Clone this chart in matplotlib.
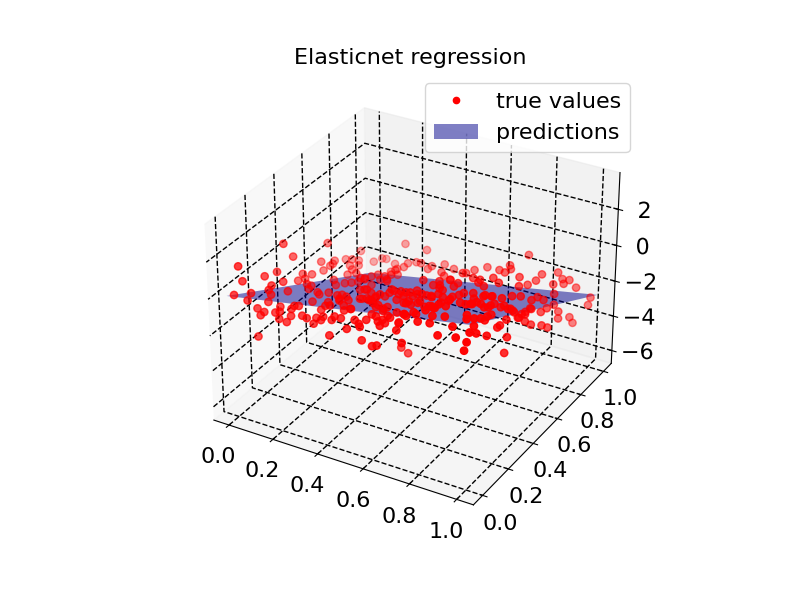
import numpy as np
import matplotlib
matplotlib.use("Agg")
import matplotlib.pyplot as plt
import matplotlib.patheffects as pe
from matplotlib.patches import Patch

plt.rcParams['font.size'] = 16
plt.rcParams['grid.color'] = 'k'
plt.rcParams['grid.linestyle'] = '--'
plt.rcParams['grid.linewidth'] = 1.0

title = "Elasticnet regression"
x_true = [
 .03,.04,.04,.01,.04,.03,.02,0,.05,.04,
 .09,.09,.09,.11,.10,.10,.07,.09,.10,.09,
 .14,.13,.15,.16,.20,.19,.20,.19,.21,.25,
 .27,.22,.18,.20,.14,.12,.05,.06,.06,.06,
 .10,.04,.05,.05,.05,.04,.03,.06,.06,.09,
 .04,.08,.12,.13,.17,.16,.21,.24,.20,.23,
 .30,.34,.34,.29,.29,.29,.30,.30,.32,.33,
 .33,.38,.38,.42,.41,.44,.48,.51,.53,.52,
 .47,.40,.54,.59,.61,.71,.55,.58,.67,.60,
 .61,.62,.54,.19,.07,.08,.10,.17,.21,.21,
 .30,.31,.28,.30,.24,.24,.36,.40,.38,.45,
 .45,.48,.48,.52,.56,.55,.50,.56,.62,.65,
 .58,.53,
 .29,.75,.40,.47,.37,.38,.32,.27,.26,.27,
 .47,.51,.58,.59,.62,.70,.72,.75,.75,.84,
 .86,.88,.86,.85,.89,.90,.93,.93,.96,.91,
 1.0,1.0,.94,.94,.96,.96,.96,.95,.99,.99,
 .97,.97,.97,.96,.97,.97,.98,.98,.98,.97,
 .91,.86,.94,.99,.98,1.0,.99,.59,.59,.62,
 .56,.65,.71,.72,.77,.82,.78,.83,.66,.70,
 .68,.66,.65,.63,.74,.75,.76,.83,.90,.83,
 .88,.91,.95,.94,.95,.97,.97,.97,.96,.96,
 .97,.97,.97,.96,.93,.93,.90,.96,.97,.94,
 .85,.81,.77,.72,.68,.76,.97,
 .25,.30,.27,.27,.33,.33,.29,.37,.37,.34,
 .42,.47,.47,.47,.50,.54,.58,.40,.38,.39,
 .29,.34,.42,.54,.56,.60,.59,.64,.66,.71,
 .63,.62,.68,.72,.74,.78,.50,.49,.61,.60,
 .56,.73,.70,.68,.81,
 .63,.62,.72,.67,.62,.71,.74,.80,.78,.82,
 .78,.77,.77,.79,.86,.90,.88,.87,.88,.90,
 .93,.93,.93,.95,.95,.93,.94,.92,.94,.75,
 .62,.93,.96,.96,.97,
]
y_true = [
 .3,.6,.35,.02,.15,.25,.03,0,.04,.03,
 .1,.12,.2,.2,.1,.08,.05,.04,.05,.02,
 .1,.08,.08,.06,.05,.1,.08,.12,.12,.08,
 .08,.2,.3,.28,.3,.35,.4,.35,.4,.45,
 .35,.55,.55,.6,.62,.65,.75,.75,.8,.75,
 .85,.7,.65,.6,.6,.45,.45,.45,.4,.3,
 .25,.25,.2,.2,.18,.15,.1,.08,.1,.1,
 .15,.1,.08,.08,.12,.12,.08,.06,.08,.05,
 .04,.03,.03,.02,.02,.03,.3,.3,.06,.06,
 .08,.1,.3,.95,.9,.95,.95,.9,.85,.8,
 .7,.6,.6,.5,.55,.5,.35,.3,.3,.25,
 .28,.3,.35,.35,.25,.2,.2,.15,.15,.15,
 .08,.12,
 .95,.95,.9,.85,.85,.8,.85,.9,.85,.8,
 .75,.7,.75,.8,.85,.8,.85,.8,.75,.7,
 .85,.95,.8,.75,.6,.95,.95,.9,.95,.85,
 1.0,.98,.8,.8,.8,.8,.9,.95,.65,.6,
 .55,.5,.45,.4,.3,.28,.18,.1,.05,.1,
 .05,.03,.02,.01,.01,.3,.3,.25,.3,.3,
 .45,.5,.45,.55,.5,.45,.6,.55,.4,.35,
 .3,.25,.2,.2,.2,.25,.3,.25,.2,.35,
 .35,.35,.35,.45,.5,.55,.6,.65,.7,.65,
 .55,.5,.4,.35,.3,.25,.25,.12,.15,.1,
 .1,.08,.1,.1,.1,.06,.2,
 .5,.45,.55,.6,.55,.6,.7,.5,.35,.35,
 .3,.25,.28,.2,.18,.15,.12,.25,.2,.15,
 .3,.2,.15,.3,.32,.3,.35,.3,.3,.25,
 .22,.2,.2,.18,.18,.15,.3,.35,.1,.08,
 .1,.1,.08,.06,.06,
 .45,.55,.4,.38,.42,.3,.28,.22,.18,.16,
 .14,.3,.35,.35,.3,.3,.4,.22,.25,.28,
 .28,.33,.38,.4,.45,.55,.5,.6,.6,.55,
 .65,.12,.2,.25,.35,
]
z_true = [
 1.11,-.61,.14,1.51,.28,-.13,.68,.05,.08,-.29,
 .02,.14,-.15,-.6,-.2,-.47,-.74,-.98,-.83,-2.02,
 -.71,-.94,-.82,-1.05,-1.01,-.65,-.87,-.61,-.54,-.67,
 -.73,-.77,-1.03,-.95,-.99,-1.19,-1.09,-1.13,-1.33,-1.39,
 -1.17,-1.36,-1.82,-1.86,-1.87,-1.91,-2.47,-2.37,-2.74,-2.61,
 -2.56,-2.36,-2.13,-2.08,-1.86,-1.35,-1.35,-1.21,-1.18,-.87,
 -.45,-.38,-.18,-.55,-.62,-.65,-.73,-.92,-.78,-.56,
 -.27,-.36,-.42,-.18,-.05,.14,-.05,-.02,.14,-.08,
 -.31,-.86,-.6,-.66,-.55,-.1,-2.73,-2.93,.23,.21,
 .26,.46,-1.37,-2.23,-3.38,-3.46,-3.42,-3.16,-3.0,-2.86,
 -2.1,-1.71,-1.83,-1.44,-1.58,-1.47,-.54,-.57,-.66,-.17,
 -.24,-.17,-.1,-.06,.25,.14,-.05,.29,.42,.43,
 .24,.18,
 -2.24,-.92,-2.38,-2.09,-2.28,-2.1,-2.29,-2.71,-2.5,-2.38,
 -1.66,-1.42,-1.32,-1.42,-1.46,-1.03,-1.0,-.8,-.68,-.31,
 -1.01,-1.45,-1.05,-1.01,-.01,-1.75,-1.7,-1.6,-2.02,-1.39,
 -2.75,-3.05,-1.51,-2.11,-2.42,-2.81,-3.38,-4.06,-2.24,-1.8,
 -1.51,-1.01,-.49,.28,.06,.08,.32,.97,1.34,1.32,
 1.39,.87,1.12,1.13,.65,-.46,-1.35,.56,.44,.46,
 .07,.1,.44,.14,.38,.67,.05,.27,.46,.65,
 .58,.54,.63,.63,.87,.79,.7,1.09,1.58,.96,
 1.03,1.08,1.12,.57,.28,-.17,-.32,-.79,-1.6,-1.49,
 -.65,-.62,.21,.76,.98,1.2,1.37,1.55,1.4,1.57,
 1.37,1.39,1.41,1.12,.88,1.03,1.18,
 -1.22,-.81,-1.38,-1.59,-1.16,-1.37,-1.87,-.97,-.51,-.63,
 -.2,.1,.03,.22,.29,.52,.67,-.27,-.12,-.04,
 -.77,-.28,-.12,.17,.21,.27,.23,.54,.53,.94,
 .62,.62,.84,.9,1.02,1.25,.1,-.14,.53,.4,
 .31,1.05,.98,.65,1.13,
 .26,-.32,.61,.46,.2,.79,.86,1.27,1.25,1.43,
 1.31,.86,.64,.82,1.09,1.36,.65,1.33,1.19,1.08,
 1.0,.88,.38,.23,-.27,-1.08,-.92,-1.31,-1.04,.15,
 -.56,1.62,.94,.92,.05,
]
grid_x = [-0.02, 1.02]
grid_y = [-0.02, 1.02]
plane_z = [[0.05, 2.34], [-5.09, -2.65]]

fig = plt.figure(figsize=(8, 6), dpi=100)
ax = fig.add_subplot(projection='3d')
ax.computed_zorder = False
X, Y = np.meshgrid(grid_x, grid_y)
ax.plot_surface(X, Y, np.array(plane_z), color='#00008b', alpha=0.5, linewidth=0,
                shade=False, zorder=1)
ax.scatter(x_true, y_true, z_true, c='r', s=28, zorder=2)
ax.set_xlim(-0.07, 1.07)
ax.set_ylim(-0.07, 1.07)
ax.set_zlim(-6.75, 4.0)
ax.set_zticks([-6, -4, -2, 0, 2])
for t in ax.zaxis.get_major_ticks():
    t.label1.set_va('center_baseline')
    t.label1.set_path_effects([pe.Stroke(offset=(0, -2.9), linewidth=0)])
ax.set_title(title, fontsize=16)
handles = [plt.Line2D([], [], marker='o', ls='', color='r', ms=4.5, label='true values'),
           Patch(facecolor='#00008b', edgecolor='none', alpha=0.5, label='predictions')]
ax.legend(handles=handles, loc='upper right')
fig.savefig('out.png', dpi=100)
